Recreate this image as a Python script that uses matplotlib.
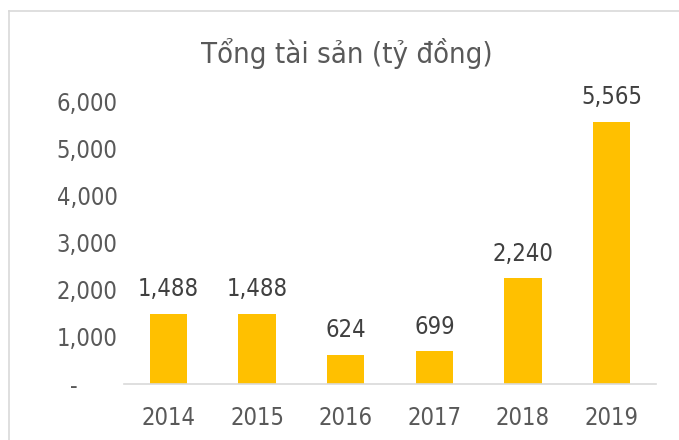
import matplotlib
matplotlib.use("Agg")
import matplotlib.pyplot as plt
from matplotlib.lines import Line2D

# data
years = ["2014", "2015", "2016", "2017", "2018", "2019"]
total_assets = [1488, 1488, 624, 699, 2240, 5565]
y_ticks = [0, 1000, 2000, 3000, 4000, 5000, 6000]
# zero shows as an accounting dash, padded like Excel does
y_tick_labels = ["-\u2007\u2007\u2007", "1,000", "2,000", "3,000", "4,000", "5,000", "6,000"]

plt.rcParams["font.family"] = ["DejaVu Sans"]
plt.rcParams["font.stretch"] = "condensed"

fig = plt.figure(figsize=(6.79, 4.40), dpi=100)
ax = fig.add_axes([124 / 679, 56 / 440, 532 / 679, 283 / 440])

x = range(len(years))
bars = ax.bar(x, total_assets, width=0.42, color="#FFC000", zorder=2)

for b, v in zip(bars, total_assets):
    ax.annotate(f"{v:,}", (b.get_x() + b.get_width() / 2, v),
                xytext=(0, 9), textcoords="offset points",
                ha="center", va="bottom", fontsize=17, color="#404040")

ax.set_xlim(-0.5, len(years) - 0.5)
ax.set_ylim(0, 6000)
ax.set_yticks(y_ticks)
ax.set_yticklabels(y_tick_labels)
ax.set_xticks(list(x))
ax.set_xticklabels(years)
ax.tick_params(axis="y", length=0, pad=4.5, labelsize=17, labelcolor="#595959")
ax.tick_params(axis="x", length=0, pad=16, labelsize=17, labelcolor="#595959")

for s in ["top", "right", "left"]:
    ax.spines[s].set_visible(False)
ax.spines["bottom"].set_color("#D9D9D9")
ax.spines["bottom"].set_linewidth(1.2)

fig.text(347 / 679, 1 - 63 / 440, "Tổng tài sản (tỷ đồng)", ha="center",
         va="baseline", fontsize=21, color="#595959")

# light chart-area border (only top and left edges are in frame)
fig.add_artist(Line2D([9 / 679, 1], [1 - 11.5 / 440, 1 - 11.5 / 440],
                      transform=fig.transFigure, color="#D9D9D9", lw=1.2))
fig.add_artist(Line2D([9 / 679, 9 / 679], [0, 1 - 11.5 / 440],
                      transform=fig.transFigure, color="#D9D9D9", lw=1.2))

fig.savefig("out.png", dpi=100, facecolor="white")
